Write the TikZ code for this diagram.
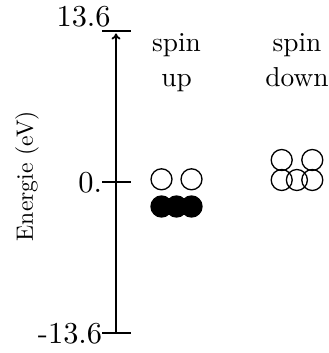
\documentclass[tikz,border=0pt]{standalone}
\usepackage{tikz}
\usetikzlibrary{arrows.meta}

\begin{document}
\begin{tikzpicture}[x=0.5pt, y=-0.5pt, line width=0.9pt, >={To[length=3pt,width=4.5pt]},
	every node/.style={inner sep=0pt},
	numlabel/.style={anchor=base east, scale=1.52},
	spinlabel/.style={anchor=base, align=center, scale=1.37, font=\fontsize{10}{12.8}\selectfont},
	electron/.style={circle, draw, line width=0.65pt, minimum size=10.5pt},
	occupied/.style={electron, fill=black}]
	\useasboundingbox (0,0) rectangle (328,353);
	% energy axis
	\coordinate (bottom) at (116,332.7);
	\coordinate (top) at (116,33.5);
	\draw[->] (bottom) -- (top);
	\foreach \y in {30.7,181.7,332.7}
		\draw (102,\y) -- (131,\y);
	\node[numlabel] (emax) at (112,26.5) {13.6};
	\node[numlabel] (ezero) at (103.5,192.5) {0.};
	\node[numlabel] (emin) at (103.5,343) {-13.6};
	\node[rotate=90, scale=1.18] (elabel) at (27,176) {Energie (eV)};
	% spin columns
	\node[spinlabel] (up) at (176.5,86.7) {spin\\up};
	\node[spinlabel] (down) at (297,86.7) {spin\\down};
	\foreach \x [count=\i] in {161.5,191.5}
		\node[electron] (upfree\i) at (\x,179.3) {};
	\foreach \x [count=\i] in {161.5,176.5,191.5}
		\node[occupied] (upfull\i) at (\x,206.5) {};
	\foreach \x [count=\i] in {281.7,312.3}
		\node[electron] (downtop\i) at (\x,160) {};
	\foreach \x [count=\i] in {281.7,296.9,312.3}
		\node[electron] (downlow\i) at (\x,180) {};
\end{tikzpicture}
\end{document}
